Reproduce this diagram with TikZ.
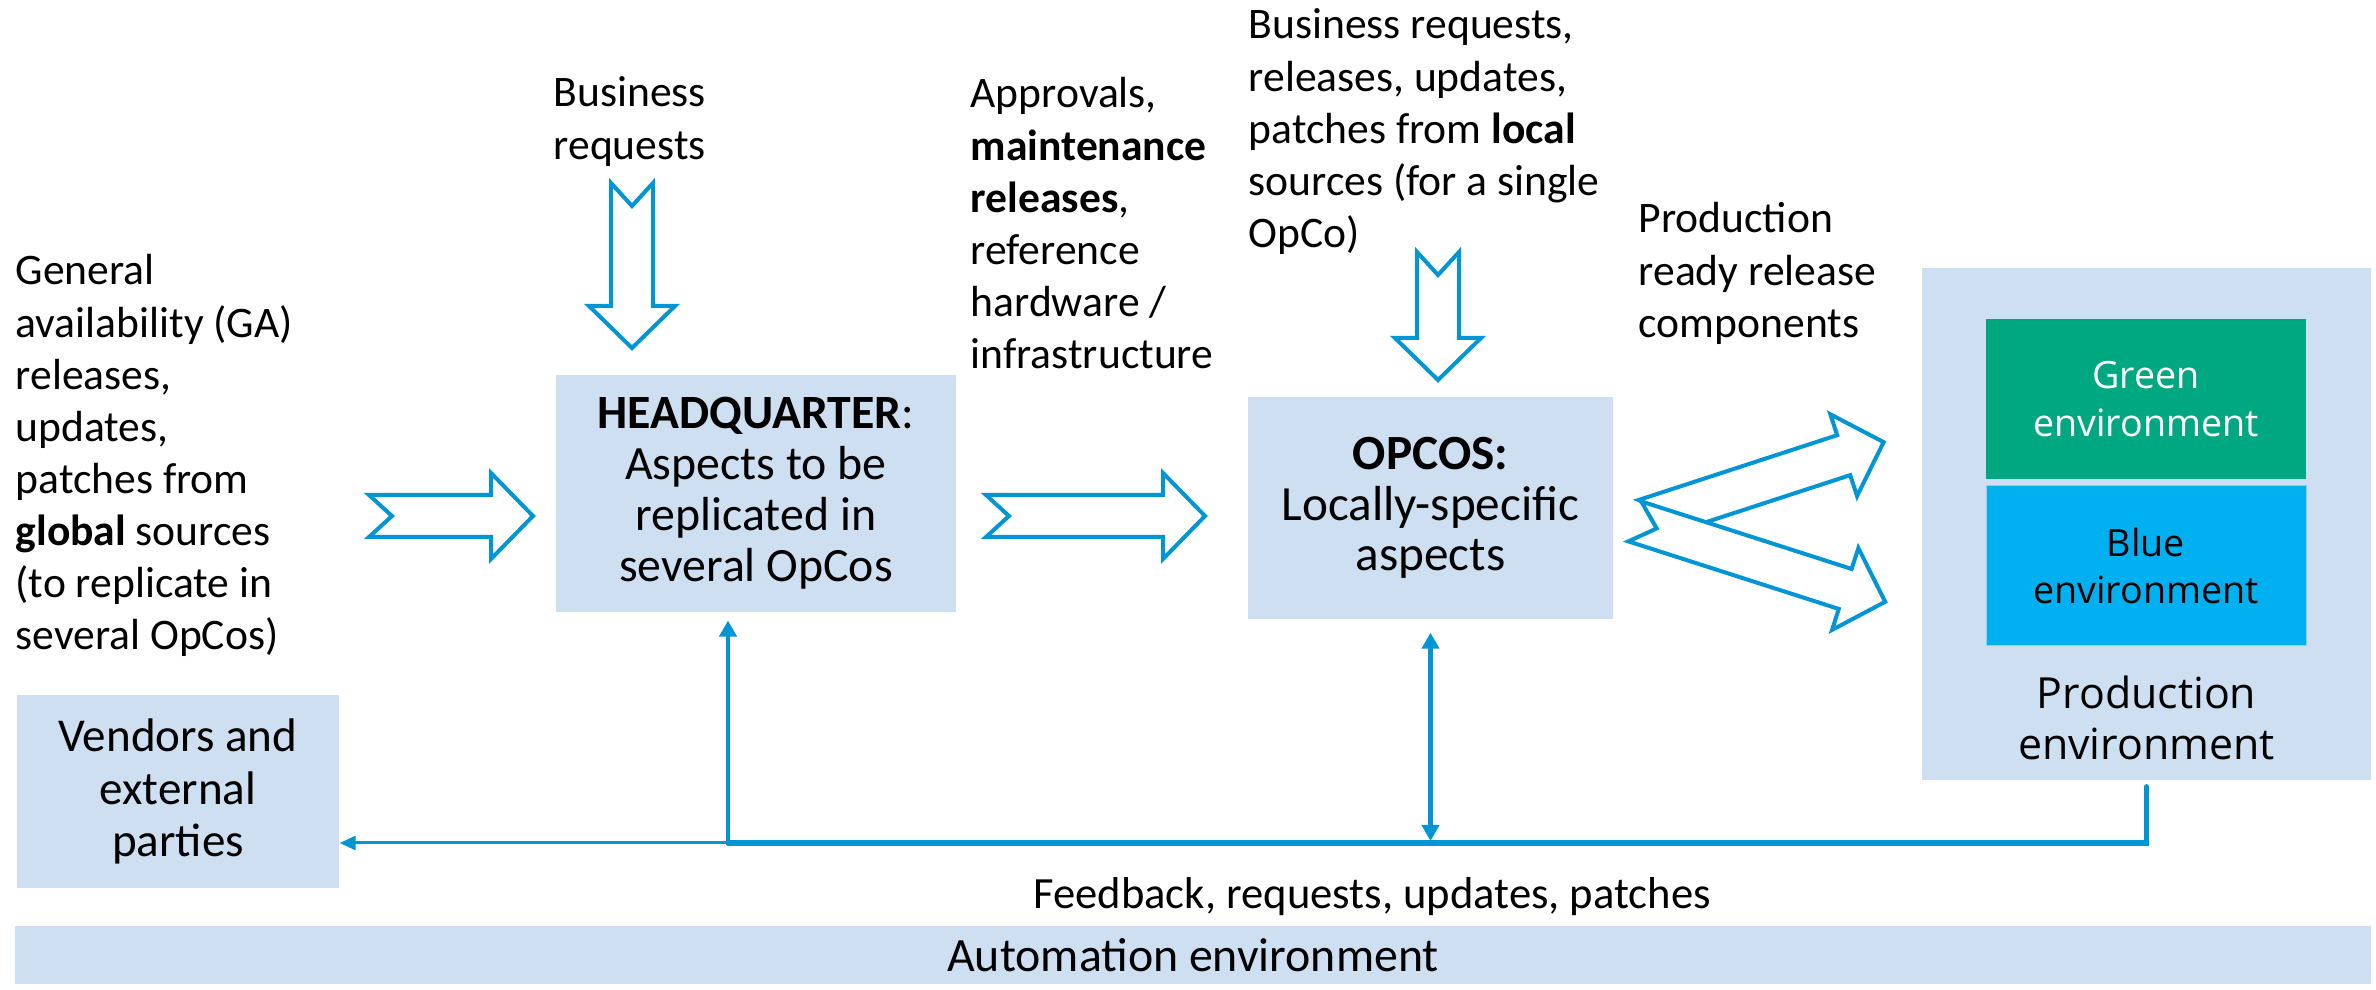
\documentclass[tikz,border=0pt]{standalone}
\usepackage{fontspec}
\setmainfont{Carlito}
\newfontfamily\segoe{Open Sans}
\usetikzlibrary{arrows.meta}
\definecolor{boxfill}{RGB}{205,223,240}
\definecolor{linecol}{RGB}{0,150,214}
\definecolor{envgreen}{RGB}{0,168,130}
\definecolor{envblue}{RGB}{0,176,240}
\definecolor{envborder}{RGB}{160,200,235}
\newcommand\lbl[1]{\parbox[t]{70mm}{\raggedright #1}}
\tikzset{
  panel/.style={fill=boxfill, inner sep=0pt, align=center},
  labeltext/.style={inner sep=0pt, anchor=base west, font=\fontsize{12.4}{14.8}\selectfont},
  envbox/.style={inner sep=0pt, align=center, minimum width=32mm, minimum height=16mm,
    font=\segoe\fontsize{10.7}{13.5}\selectfont},
  fb/.style={draw=linecol, line width=0.45mm},
  bus/.style={draw=linecol, line width=0.52mm, line cap=round, line join=miter},
  thinfb/.style={draw=linecol, line width=0.3mm},
  pics/fatarrow/.style={code={
    \draw[line width=0.4mm, draw=linecol, fill=white, line join=miter]
      (0,-21) -- ({#1-42},-21) -- ({#1-42},-43) -- (#1,0) -- ({#1-42},43)
      -- ({#1-42},21) -- (0,21) -- (23,0) -- cycle;
  }}
}
\begin{document}
\begin{tikzpicture}[x=0.1mm,y=-0.1mm]
\fill[white] (0,0) rectangle (2376,990);
\useasboundingbox (0,0) rectangle (2376,990);

% boxes
\node[panel, minimum width=40mm, minimum height=23.67mm, font=\fontsize{13.6}{14.5}\selectfont]
  (hq) at (756,493.5) {\textbf{HEADQUARTER}:\\Aspects to be\\replicated in\\several OpCos};
\node[panel, minimum width=36.5mm, minimum height=22.2mm, font=\fontsize{14}{14.4}\selectfont]
  (opco) at (1430.5,508) {\textbf{OPCOS:}\\Locally-specific\\aspects};
\node[panel, minimum width=44.9mm, minimum height=51.2mm] (prod) at (2146.5,524) {};
\node[envbox, fill=envgreen, text=white] (green) at (2146,399) {Green\\environment};
\node[envbox, fill=envblue, draw=envborder, line width=0.1mm] (blue) at (2146,566) {Blue\\environment};
\node[inner sep=0pt, align=center, font=\segoe\fontsize{12.2}{14.7}\selectfont]
  (prodlbl) at (2146.5,718) {Production\\environment};
\node[panel, minimum width=32.2mm, minimum height=19.3mm, font=\fontsize{13.4}{15}\selectfont]
  (vend) at (178,791.5) {Vendors and\\external\\parties};
\node[panel, minimum width=235.6mm, minimum height=5.8mm, font=\fontsize{13.6}{15}\selectfont]
  (auto) at (1193,955) {Automation environment};

% labels
\node[labeltext] (ga) at (15,285) {\lbl{General\\availability (GA)\\releases,\\updates,\\patches from\\\textbf{global} sources\\(to replicate in\\several OpCos)}};
\node[labeltext] (bizhq) at (553,107) {\lbl{Business\\requests}};
\node[labeltext] (appr) at (970,108) {\lbl{Approvals,\\\textbf{maintenance}\\\textbf{releases},\\reference\\hardware /\\infrastructure}};
\node[labeltext] (bizop) at (1248,39) {\lbl{Business requests,\\releases, updates,\\patches from \textbf{local}\\sources (for a single\\OpCo)}};
\node[labeltext] (ready) at (1638,233) {\lbl{Production\\ready release\\components}};
\node[inner sep=0pt, anchor=base, font=\fontsize{12.7}{15}\selectfont] (fbtext) at (1372,909) {Feedback, requests, updates, patches};

% fat arrows
\pic at (369,516) {fatarrow=164};
\pic[rotate=-90] at (632,183) {fatarrow=165};
\pic at (986,516) {fatarrow=219};
\pic[rotate=-90] at (1438,252) {fatarrow=128};
\pic[rotate=18.07] at (1645,520) {fatarrow=251};
\pic[rotate=-17.8] at (1634.8,521.4) {fatarrow=263};

% feedback connectors
\coordinate (hqj) at (728,843);
\draw[thinfb, -{Triangle[length=1.6mm,width=1.4mm]}] (hqj) -- (vend.east |- hqj);
\draw[bus] ([yshift=-0.6mm]prod.south) -- (prod.south |- hqj) -- (hqj);
\draw[fb, -{Triangle[length=1.6mm,width=1.7mm]}, shorten >=0.8mm] (hqj) -- (hqj |- hq.south);
\draw[fb, {Triangle[length=1.6mm,width=1.7mm]}-{Triangle[length=1.6mm,width=1.7mm]}, shorten >=1.3mm, shorten <=0.2mm]
  (opco.south |- hqj) -- (opco.south);
\end{tikzpicture}
\end{document}
